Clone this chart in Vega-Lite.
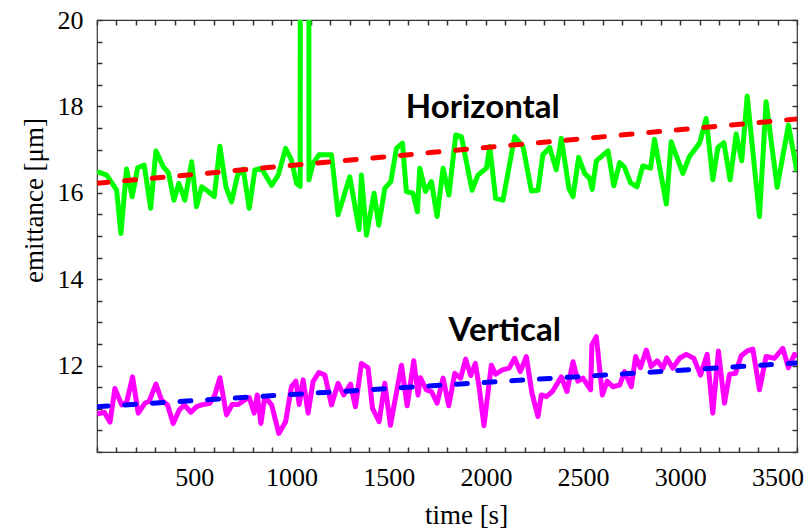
{
  "$schema": "https://vega.github.io/schema/vega-lite/v6.json",
  "width": 700,
  "height": 432,
  "autosize": "none",
  "padding": {"left": 97, "top": 20, "right": 10, "bottom": 78},
  "background": "white",
  "config": {
    "view": {"stroke": "#333333", "strokeWidth": 1.2},
    "axis": {"grid": false, "domain": false, "labelFont": "Liberation Serif", "labelFontSize": 26, "labelColor": "black", "labelOverlap": false, "labelFlush": false, "titleFont": "Liberation Serif", "titleFontSize": 27, "titleFontWeight": "normal", "titleColor": "black"}
  },
  "datasets": {
    "horizontal": [
      {"t":0,"v":16.49},{"t":50,"v":16.41},{"t":101,"v":16.06},{"t":123,"v":15.06},{"t":152,"v":16.55},{"t":181,"v":15.91},{"t":209,"v":16.58},{"t":243,"v":16.64},{"t":276,"v":15.64},{"t":303,"v":16.97},{"t":341,"v":16.6},{"t":367,"v":16.47},{"t":396,"v":15.83},{"t":421,"v":16.22},{"t":452,"v":15.83},{"t":487,"v":16.72},{"t":512,"v":15.68},{"t":538,"v":16.14},{"t":572,"v":16.03},{"t":603,"v":15.91},{"t":632,"v":17.08},{"t":663,"v":16.14},{"t":692,"v":15.79},{"t":723,"v":16.41},{"t":752,"v":16.55},{"t":783,"v":15.64},{"t":812,"v":16.53},{"t":846,"v":16.57},{"t":898,"v":16.17},{"t":932,"v":16.41},{"t":970,"v":17.03},{"t":1000,"v":16.76},{"t":1026,"v":16.22},{"t":1045,"v":16.15},{"t":1050,"v":60},{"t":1088,"v":60},{"t":1090,"v":16.3},{"t":1111,"v":16.68},{"t":1142,"v":16.88},{"t":1206,"v":16.88},{"t":1240,"v":15.49},{"t":1300,"v":16.37},{"t":1348,"v":15.15},{"t":1360,"v":16.41},{"t":1386,"v":15.02},{"t":1425,"v":15.99},{"t":1449,"v":15.25},{"t":1480,"v":16.1},{"t":1511,"v":16.26},{"t":1540,"v":17.03},{"t":1571,"v":17.15},{"t":1591,"v":16.03},{"t":1625,"v":15.99},{"t":1648,"v":15.56},{"t":1660,"v":16.57},{"t":1689,"v":16.03},{"t":1720,"v":16.26},{"t":1749,"v":15.45},{"t":1780,"v":16.57},{"t":1810,"v":15.95},{"t":1845,"v":17.34},{"t":1874,"v":17.3},{"t":1929,"v":16.06},{"t":1959,"v":16.41},{"t":2003,"v":16.57},{"t":2020,"v":17.07},{"t":2050,"v":15.87},{"t":2088,"v":15.83},{"t":2148,"v":17.3},{"t":2191,"v":17.07},{"t":2234,"v":16.04},{"t":2268,"v":16.06},{"t":2293,"v":16.88},{"t":2328,"v":17.05},{"t":2362,"v":16.53},{"t":2388,"v":17.26},{"t":2427,"v":16.1},{"t":2448,"v":15.91},{"t":2477,"v":16.82},{"t":2508,"v":16.45},{"t":2533,"v":16.34},{"t":2547,"v":16.08},{"t":2568,"v":16.74},{"t":2628,"v":16.97},{"t":2658,"v":16.16},{"t":2688,"v":16.7},{"t":2713,"v":16.59},{"t":2744,"v":16.23},{"t":2777,"v":16.14},{"t":2807,"v":16.62},{"t":2847,"v":16.57},{"t":2867,"v":17.24},{"t":2928,"v":15.74},{"t":2953,"v":17.18},{"t":3013,"v":16.45},{"t":3047,"v":16.84},{"t":3099,"v":17.15},{"t":3133,"v":17.72},{"t":3167,"v":16.3},{"t":3193,"v":17.05},{"t":3224,"v":17.16},{"t":3256,"v":16.3},{"t":3287,"v":17.36},{"t":3316,"v":16.74},{"t":3344,"v":18.24},{"t":3407,"v":15.45},{"t":3441,"v":18.11},{"t":3498,"v":16.13},{"t":3556,"v":17.57},{"t":3600,"v":16.5}
    ],
    "vertical": [
      {"t":0,"v":10.88},{"t":38,"v":10.92},{"t":67,"v":10.69},{"t":92,"v":11.47},{"t":127,"v":11.09},{"t":153,"v":11.16},{"t":183,"v":11.74},{"t":212,"v":10.9},{"t":247,"v":11.13},{"t":269,"v":11.18},{"t":303,"v":11.57},{"t":332,"v":11.2},{"t":363,"v":11.09},{"t":392,"v":10.66},{"t":423,"v":10.97},{"t":449,"v":11.09},{"t":483,"v":10.92},{"t":512,"v":11.05},{"t":546,"v":11.1},{"t":581,"v":11.13},{"t":606,"v":11.32},{"t":632,"v":11.72},{"t":666,"v":10.86},{"t":695,"v":11.1},{"t":726,"v":11.1},{"t":757,"v":11.2},{"t":783,"v":11.26},{"t":808,"v":10.9},{"t":824,"v":11.32},{"t":843,"v":10.66},{"t":863,"v":11.28},{"t":898,"v":11.09},{"t":935,"v":10.43},{"t":970,"v":10.7},{"t":1000,"v":11.51},{"t":1023,"v":11.64},{"t":1040,"v":11.1},{"t":1060,"v":11.67},{"t":1086,"v":10.9},{"t":1111,"v":11.63},{"t":1141,"v":11.84},{"t":1172,"v":11.78},{"t":1206,"v":11.09},{"t":1240,"v":11.59},{"t":1269,"v":11.32},{"t":1304,"v":11.57},{"t":1329,"v":11.05},{"t":1360,"v":12.05},{"t":1394,"v":11.95},{"t":1417,"v":11.01},{"t":1451,"v":10.7},{"t":1480,"v":11.59},{"t":1509,"v":10.62},{"t":1566,"v":12.01},{"t":1595,"v":11.07},{"t":1629,"v":12.11},{"t":1651,"v":11.32},{"t":1663,"v":11.72},{"t":1694,"v":11.44},{"t":1720,"v":11.4},{"t":1749,"v":11.13},{"t":1780,"v":11.71},{"t":1809,"v":11.07},{"t":1840,"v":11.82},{"t":1870,"v":11.71},{"t":1896,"v":12.15},{"t":1922,"v":11.77},{"t":1946,"v":12.05},{"t":1965,"v":11.51},{"t":1990,"v":10.61},{"t":2028,"v":12.01},{"t":2050,"v":11.8},{"t":2085,"v":11.9},{"t":2119,"v":11.94},{"t":2148,"v":12.17},{"t":2177,"v":11.86},{"t":2208,"v":12.21},{"t":2237,"v":11.36},{"t":2268,"v":10.82},{"t":2285,"v":11.32},{"t":2311,"v":11.28},{"t":2342,"v":11.4},{"t":2388,"v":11.74},{"t":2417,"v":11.4},{"t":2448,"v":12.09},{"t":2473,"v":11.64},{"t":2499,"v":11.71},{"t":2539,"v":11.44},{"t":2545,"v":12.48},{"t":2568,"v":12.67},{"t":2599,"v":11.32},{"t":2624,"v":11.64},{"t":2653,"v":11.51},{"t":2688,"v":11.55},{"t":2713,"v":11.86},{"t":2748,"v":11.51},{"t":2770,"v":12.21},{"t":2795,"v":11.95},{"t":2825,"v":12.36},{"t":2850,"v":11.98},{"t":2881,"v":12.11},{"t":2910,"v":11.94},{"t":2930,"v":12.18},{"t":2961,"v":11.94},{"t":2996,"v":12.17},{"t":3030,"v":12.26},{"t":3069,"v":12.17},{"t":3104,"v":11.78},{"t":3138,"v":12.26},{"t":3167,"v":10.9},{"t":3196,"v":12.34},{"t":3227,"v":11.13},{"t":3253,"v":11.8},{"t":3284,"v":11.82},{"t":3313,"v":12.23},{"t":3344,"v":12.34},{"t":3373,"v":12.38},{"t":3407,"v":11.44},{"t":3441,"v":12.21},{"t":3484,"v":12.17},{"t":3527,"v":12.4},{"t":3556,"v":11.95},{"t":3587,"v":12.26},{"t":3600,"v":12.2}
    ],
    "fitH": [{"t":0,"v":16.22},{"t":3600,"v":17.71}],
    "fitV": [{"t":0,"v":11.05},{"t":3600,"v":12.06}],
    "labels": [{"label":"Horizontal","t":1984,"v":17.73},{"label":"Vertical","t":2097,"v":12.56}]
  },
  "layer": [
    {
      "data": {"name": "horizontal"},
      "mark": {"type": "line", "color": "#00ff00", "strokeWidth": 5, "strokeJoin": "round", "clip": true},
      "encoding": {
        "x": {"field": "t", "type": "quantitative", "scale": {"domain": [0, 3600], "nice": false, "zero": false},
          "axis": {"orient": "bottom", "values": [0,100,200,300,400,500,600,700,800,900,1000,1100,1200,1300,1400,1500,1600,1700,1800,1900,2000,2100,2200,2300,2400,2500,2600,2700,2800,2900,3000,3100,3200,3300,3400,3500,3600],
            "format": "d",
            "labelExpr": "(datum.value % 500 === 0 && datum.value > 0 && datum.value < 3600) ? datum.label : ''",
            "ticks": true, "tickColor": "#333333", "tickWidth": 1.5, "tickSize": -5,
            "labelPadding": 17,
            "title": "time [s]", "titleX": 369, "titleY": 71, "titleAlign": "center", "titleBaseline": "alphabetic", "titleAngle": 0}},
        "y": {"field": "v", "type": "quantitative", "scale": {"domain": [10, 20], "nice": false, "zero": false},
          "axis": {"orient": "left", "values": [10,10.5,11,11.5,12,12.5,13,13.5,14,14.5,15,15.5,16,16.5,17,17.5,18,18.5,19,19.5,20],
            "labelExpr": "(datum.value % 2 === 0 && datum.value > 10) ? format(datum.value, 'd') : ''",
            "ticks": true, "tickColor": "#333333", "tickWidth": 1.5, "tickSize": -5,
            "labelPadding": 19, "labelBaseline": "middle",
            "title": "emittance [μm]", "titleX": -55, "titleY": 180, "titleAngle": -90, "titleAlign": "center", "titleBaseline": "alphabetic"}}
      }
    },
    {
      "data": {"name": "fitH"},
      "mark": {"type": "line", "color": "#ff0000", "strokeWidth": 5, "strokeDash": [11, 16.7], "strokeCap": "round", "clip": true},
      "encoding": {
        "x": {"field": "t", "type": "quantitative", "scale": {"domain": [0, 3600], "nice": false, "zero": false}, "axis": null},
        "y": {"field": "v", "type": "quantitative", "scale": {"domain": [10, 20], "nice": false, "zero": false}, "axis": null}
      }
    },
    {
      "data": {"name": "vertical"},
      "mark": {"type": "line", "color": "#ff00ff", "strokeWidth": 5, "strokeJoin": "round", "clip": true},
      "encoding": {
        "x": {"field": "t", "type": "quantitative", "scale": {"domain": [0, 3600], "nice": false, "zero": false},
          "axis": {"orient": "top", "values": [0,100,200,300,400,500,600,700,800,900,1000,1100,1200,1300,1400,1500,1600,1700,1800,1900,2000,2100,2200,2300,2400,2500,2600,2700,2800,2900,3000,3100,3200,3300,3400,3500,3600],
            "labels": false, "title": null, "ticks": true, "tickColor": "#333333", "tickWidth": 1.5, "tickSize": -5}},
        "y": {"field": "v", "type": "quantitative", "scale": {"domain": [10, 20], "nice": false, "zero": false},
          "axis": {"orient": "right", "values": [10,10.5,11,11.5,12,12.5,13,13.5,14,14.5,15,15.5,16,16.5,17,17.5,18,18.5,19,19.5,20],
            "labels": false, "title": null, "ticks": true, "tickColor": "#333333", "tickWidth": 1.5, "tickSize": -5}}
      }
    },
    {
      "data": {"name": "fitV"},
      "mark": {"type": "line", "color": "#0000ff", "strokeWidth": 5, "strokeDash": [11, 16.7], "strokeCap": "round", "clip": true},
      "encoding": {
        "x": {"field": "t", "type": "quantitative", "scale": {"domain": [0, 3600], "nice": false, "zero": false}, "axis": null},
        "y": {"field": "v", "type": "quantitative", "scale": {"domain": [10, 20], "nice": false, "zero": false}, "axis": null}
      }
    },
    {
      "data": {"name": "labels"},
      "mark": {"type": "text", "font": "Lato", "fontWeight": "bold", "fontSize": 33, "align": "center", "baseline": "alphabetic", "color": "black"},
      "encoding": {
        "x": {"field": "t", "type": "quantitative", "scale": {"domain": [0, 3600], "nice": false, "zero": false}, "axis": null},
        "y": {"field": "v", "type": "quantitative", "scale": {"domain": [10, 20], "nice": false, "zero": false}, "axis": null},
        "text": {"field": "label", "type": "nominal"}
      }
    }
  ],
  "resolve": {"axis": {"x": "independent", "y": "independent"}}
}
